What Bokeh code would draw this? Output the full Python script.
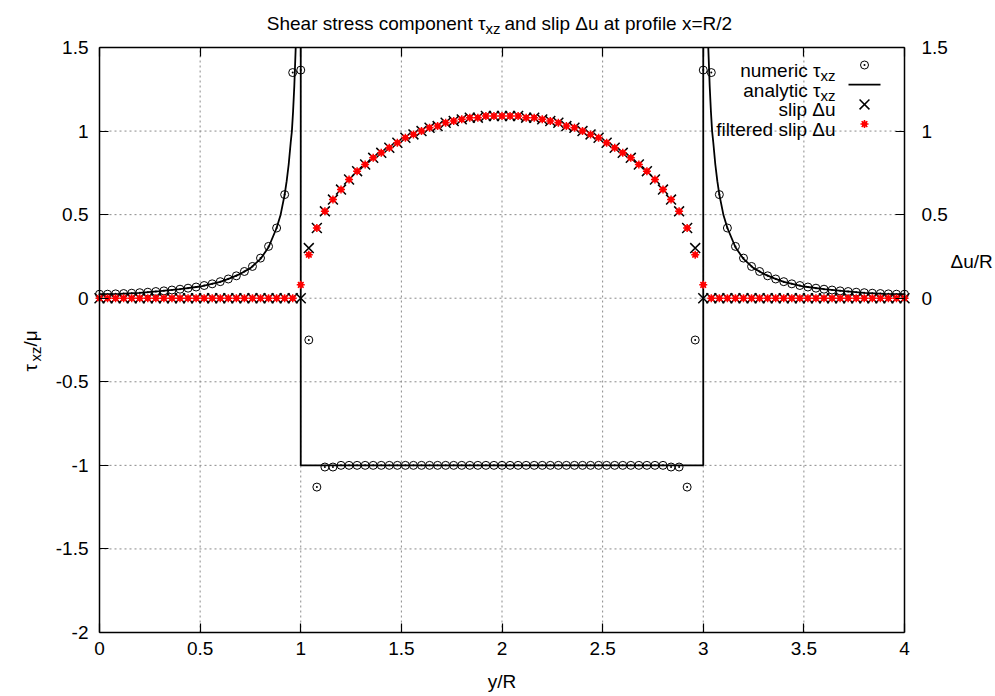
from bokeh.plotting import figure
from bokeh.models import (Range1d, LinearAxis, FixedTicker, Label,
                          PrintfTickFormatter, CustomJSTickFormatter)
from bokeh.embed import file_html
from bokeh.resources import INLINE

nan = float("nan")

# ---------------- data ----------------
y_over_R = [0.00, 0.04, 0.08, 0.12, 0.16, 0.20, 0.24, 0.28, 0.32, 0.36,
            0.40, 0.44, 0.48, 0.52, 0.56, 0.60, 0.64, 0.68, 0.72, 0.76,
            0.80, 0.84, 0.88, 0.92, 0.96, 1.00, 1.04, 1.08, 1.12, 1.16,
            1.20, 1.24, 1.28, 1.32, 1.36, 1.40, 1.44, 1.48, 1.52, 1.56,
            1.60, 1.64, 1.68, 1.72, 1.76, 1.80, 1.84, 1.88, 1.92, 1.96,
            2.00, 2.04, 2.08, 2.12, 2.16, 2.20, 2.24, 2.28, 2.32, 2.36,
            2.40, 2.44, 2.48, 2.52, 2.56, 2.60, 2.64, 2.68, 2.72, 2.76,
            2.80, 2.84, 2.88, 2.92, 2.96, 3.00, 3.04, 3.08, 3.12, 3.16,
            3.20, 3.24, 3.28, 3.32, 3.36, 3.40, 3.44, 3.48, 3.52, 3.56,
            3.60, 3.64, 3.68, 3.72, 3.76, 3.80, 3.84, 3.88, 3.92, 3.96,
            4.00]

tau_numeric = [0.024, 0.024, 0.026, 0.028, 0.030, 0.033, 0.036, 0.040, 0.044, 0.049,
               0.054, 0.060, 0.067, 0.076, 0.086, 0.099, 0.115, 0.134, 0.160, 0.190,
               0.240, 0.310, 0.420, 0.620, 1.350, 1.365, -0.25, -1.13, -1.01, -1.01,
               -1.0, -1.0, -1.0, -1.0, -1.0, -1.0, -1.0, -1.0, -1.0, -1.0,
               -1.0, -1.0, -1.0, -1.0, -1.0, -1.0, -1.0, -1.0, -1.0, -1.0,
               -1.0, -1.0, -1.0, -1.0, -1.0, -1.0, -1.0, -1.0, -1.0, -1.0,
               -1.0, -1.0, -1.0, -1.0, -1.0, -1.0, -1.0, -1.0, -1.0, -1.0,
               -1.0, -1.01, -1.01, -1.13, -0.25, 1.365, 1.350, 0.620, 0.420, 0.310,
               0.240, 0.190, 0.160, 0.134, 0.115, 0.099, 0.086, 0.076, 0.067, 0.060,
               0.054, 0.049, 0.044, 0.040, 0.036, 0.033, 0.030, 0.028, 0.026, 0.024,
               0.024]

slip = [0, 0, 0, 0, 0, 0, 0, 0, 0, 0,
        0, 0, 0, 0, 0, 0, 0, 0, 0, 0,
        0, 0, 0, 0, 0, 0, 0.30, 0.42, 0.52, 0.59,
        0.65, 0.71, 0.76, 0.80, 0.84, 0.87, 0.90, 0.93, 0.96, 0.98,
        1.00, 1.02, 1.03, 1.05, 1.06, 1.07, 1.08, 1.08, 1.09, 1.09,
        1.09, 1.09, 1.09, 1.08, 1.08, 1.07, 1.06, 1.05, 1.03, 1.02,
        1.00, 0.98, 0.96, 0.93, 0.90, 0.87, 0.84, 0.80, 0.76, 0.71,
        0.65, 0.59, 0.52, 0.42, 0.30, 0, 0, 0, 0, 0,
        0, 0, 0, 0, 0, 0, 0, 0, 0, 0,
        0, 0, 0, 0, 0, 0, 0, 0, 0, 0,
        0]

slip_filtered = [0, 0, 0, 0, 0, 0, 0, 0, 0, 0,
                 0, 0, 0, 0, 0, 0, 0, 0, 0, 0,
                 0, 0, 0, 0, 0, 0.08, 0.26, 0.42, 0.52, 0.59,
                 0.65, 0.71, 0.76, 0.80, 0.84, 0.87, 0.90, 0.93, 0.96, 0.98,
                 1.00, 1.02, 1.03, 1.05, 1.06, 1.07, 1.08, 1.08, 1.09, 1.09,
                 1.09, 1.09, 1.09, 1.08, 1.08, 1.07, 1.06, 1.05, 1.03, 1.02,
                 1.00, 0.98, 0.96, 0.93, 0.90, 0.87, 0.84, 0.80, 0.76, 0.71,
                 0.65, 0.59, 0.52, 0.42, 0.26, 0.08, 0, 0, 0, 0,
                 0, 0, 0, 0, 0, 0, 0, 0, 0, 0,
                 0, 0, 0, 0, 0, 0, 0, 0, 0, 0,
                 0]

# analytic curve (singular at y/R = 1 and 3; shown up to the top of the axis)
analytic_y = [0.0, 0.1, 0.2, 0.3, 0.4, 0.5, 0.6, 0.65, 0.7, 0.75,
              0.8, 0.84, 0.88, 0.9, 0.92, 0.93, 0.94, 0.95, 0.956, 0.962,
              0.968, 0.975, nan, 1.0, 1.0, 3.0, 3.0, nan,
              3.025, 3.032, 3.038, 3.044, 3.05, 3.06, 3.07, 3.08, 3.1, 3.12,
              3.16, 3.2, 3.25, 3.3, 3.35, 3.4, 3.5, 3.6, 3.7, 3.8,
              3.9, 4.0]
analytic_tau = [0.024, 0.026, 0.032, 0.042, 0.054, 0.070, 0.098, 0.120, 0.146, 0.180,
                0.235, 0.305, 0.420, 0.500, 0.620, 0.700, 0.800, 0.930, 1.000, 1.120,
                1.270, 1.500, nan, 1.500, -1.000, -1.000, 1.500, nan,
                1.500, 1.270, 1.120, 1.000, 0.930, 0.800, 0.700, 0.620, 0.500, 0.420,
                0.305, 0.235, 0.180, 0.146, 0.120, 0.098, 0.070, 0.054, 0.042, 0.032,
                0.026, 0.024]

x_ticks = [0, 0.5, 1, 1.5, 2, 2.5, 3, 3.5, 4]
y_ticks = [-2, -1.5, -1, -0.5, 0, 0.5, 1, 1.5]
y2_ticks = [0, 0.5, 1, 1.5]

# ---------------- layout / style ----------------
FONT = "Liberation Sans"
FS = "19px"
SUB = "15px"
W, H = 995, 696
BL, BR, BT, BB = 99, 904, 47, 632      # plot box in canvas pixels
X0, X1, Y0, Y1 = 0, 4, -2, 1.5         # plot box in data units


def dx(px):
    return X0 + (px - BL) / (BR - BL) * (X1 - X0)


def dy(py):
    return Y1 - (py - BT) / (BB - BT) * (Y1 - Y0)


# the frame covers the whole canvas; the plot box is drawn by fixed-location axes
p = figure(width=W, height=H, output_backend="svg", toolbar_location=None,
           x_range=Range1d(dx(0), dx(W)), y_range=Range1d(dy(H), dy(0)),
           min_border=0, min_border_left=0, min_border_right=0,
           min_border_top=0, min_border_bottom=0)
p.outline_line_color = None
p.background_fill_color = "white"
p.border_fill_color = "white"
p.xgrid.visible = False
p.ygrid.visible = False

fmt = PrintfTickFormatter(format="%g")


def style_axis(ax, ticks, standoff, loc, bounds, labels=True):
    ax.fixed_location = loc
    ax.bounds = bounds
    ax.ticker = FixedTicker(ticks=ticks)
    ax.major_tick_in = 9
    ax.major_tick_out = 0
    ax.minor_tick_in = 0
    ax.minor_tick_out = 0
    ax.major_tick_line_color = "black"
    ax.major_tick_line_width = 1.2
    ax.axis_line_color = "black"
    ax.axis_line_width = 1.5
    ax.major_label_standoff = standoff
    ax.major_label_text_font = FONT
    ax.major_label_text_font_size = FS
    ax.major_label_text_color = "black"
    if labels:
        ax.formatter = fmt
    else:
        ax.formatter = CustomJSTickFormatter(code="return ''")


# dotted grid (drawn first, under everything)
gx = x_ticks[1:-1]
gy = y_ticks[1:-1]
p.segment(x0=gx, y0=[Y0] * len(gx), x1=gx, y1=[Y1] * len(gx),
          line_color="#8a8a8a", line_dash="2 3", line_width=1)
p.segment(x0=[X0] * len(gy), y0=gy, x1=[X1] * len(gy), y1=gy,
          line_color="#8a8a8a", line_dash="2 3", line_width=1)

xa = p.xaxis[0]
style_axis(xa, x_ticks, 9, Y0, (X0, X1))
xa.axis_label = "y/R"
xa.axis_label_text_font = FONT
xa.axis_label_text_font_size = FS
xa.axis_label_text_font_style = "normal"
xa.axis_label_text_color = "black"
xa.axis_label_standoff = 13

ya = p.yaxis[0]
style_axis(ya, y_ticks, 11, X0, (Y0, Y1))

ra = LinearAxis()
style_axis(ra, y2_ticks, 17, X1, (Y0, Y1))
p.add_layout(ra, "right")

ta = LinearAxis()
style_axis(ta, x_ticks, 4, Y1, (X0, X1), labels=False)
p.add_layout(ta, "above")

# ---------------- series ----------------
p.scatter(y_over_R, tau_numeric, marker="circle_dot", size=8,
          fill_color=None, line_color="black", line_width=1)
p.line(analytic_y, analytic_tau, line_color="black", line_width=1.8)
p.scatter(y_over_R, slip, marker="x", size=14, line_color="black", line_width=1.5)
p.scatter(y_over_R, slip_filtered, marker="square", size=5,
          fill_color="red", line_color=None)
p.scatter(y_over_R, slip_filtered, marker="asterisk", size=8,
          line_color="red", line_width=1.5)


# ---------------- texts (positions given in canvas pixels) ----------------
def lab(text, px, py, size=FS, align="left", angle=0.0):
    p.add_layout(Label(x=dx(px), y=dy(py), text=text, text_font=FONT,
                       text_font_size=size, text_align=align,
                       text_baseline="alphabetic", text_color="black",
                       angle=angle))


# title
lab("Shear stress component \u03c4", 485, 23, align="right")
lab("xz", 485, 28, size=SUB)
lab("and slip \u0394u at profile x=R/2", 504, 23)

# left axis label (rotated)
lab("\u03c4", 30, 371, angle=1.5708)
lab("xz", 35, 361, size=SUB, angle=1.5708)
lab("/\u03bc", 30, 346, angle=1.5708)

# right axis label
lab("\u0394u/R", 950, 261)

# legend
base = [70, 89.7, 109.4, 129.1]
lab("numeric \u03c4", 820, base[0], align="right")
lab("xz", 820, base[0] + 5, size=SUB)
lab("analytic \u03c4", 820, base[1], align="right")
lab("xz", 820, base[1] + 5, size=SUB)
lab("slip \u0394u", 835, base[2], align="right")
lab("filtered slip \u0394u", 835, base[3], align="right")

p.scatter([dx(864)], [dy(base[0] - 5.5)], marker="circle_dot", size=8,
          fill_color=None, line_color="black", line_width=1)
p.line([dx(848), dx(880)], [dy(base[1] - 5.5)] * 2, line_color="black", line_width=1.8)
p.scatter([dx(864)], [dy(base[2] - 5.5)], marker="x", size=14,
          line_color="black", line_width=1.5)
p.scatter([dx(864)], [dy(base[3] - 5.5)], marker="square", size=5,
          fill_color="red", line_color=None)
p.scatter([dx(864)], [dy(base[3] - 5.5)], marker="asterisk", size=8,
          line_color="red", line_width=1.5)

open("out.html", "w").write(file_html(p, INLINE))
